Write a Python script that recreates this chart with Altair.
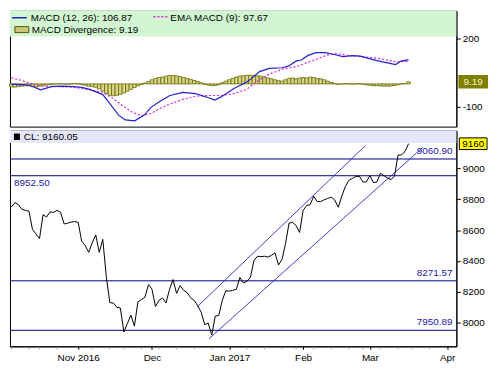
import altair as alt
import pandas as pd

# ---------------- data ----------------
dates = [
    "2016-10-03", "2016-10-04", "2016-10-05", "2016-10-06", "2016-10-07", "2016-10-10", "2016-10-13", "2016-10-14",
    "2016-10-17", "2016-10-18", "2016-10-19", "2016-10-20", "2016-10-21", "2016-10-24", "2016-10-25", "2016-10-26",
    "2016-10-27", "2016-10-28", "2016-10-30", "2016-11-01", "2016-11-02", "2016-11-03", "2016-11-04", "2016-11-07",
    "2016-11-08", "2016-11-09", "2016-11-10", "2016-11-11", "2016-11-15", "2016-11-16", "2016-11-17", "2016-11-18",
    "2016-11-21", "2016-11-22", "2016-11-23", "2016-11-24", "2016-11-25", "2016-11-28", "2016-11-29", "2016-11-30",
    "2016-12-01", "2016-12-02", "2016-12-05", "2016-12-06", "2016-12-07", "2016-12-08", "2016-12-09", "2016-12-12",
    "2016-12-13", "2016-12-14", "2016-12-15", "2016-12-16", "2016-12-19", "2016-12-20", "2016-12-21", "2016-12-22",
    "2016-12-23", "2016-12-26", "2016-12-27", "2016-12-28", "2016-12-29", "2016-12-30", "2017-01-02", "2017-01-03",
    "2017-01-04", "2017-01-05", "2017-01-06", "2017-01-09", "2017-01-10", "2017-01-11", "2017-01-12", "2017-01-13",
    "2017-01-16", "2017-01-17", "2017-01-18", "2017-01-19", "2017-01-20", "2017-01-23", "2017-01-24", "2017-01-25",
    "2017-01-27", "2017-01-30", "2017-01-31", "2017-02-01", "2017-02-02", "2017-02-03", "2017-02-06", "2017-02-07",
    "2017-02-08", "2017-02-09", "2017-02-10", "2017-02-13", "2017-02-14", "2017-02-15", "2017-02-16", "2017-02-17",
    "2017-02-20", "2017-02-21", "2017-02-22", "2017-02-23", "2017-02-27", "2017-02-28", "2017-03-01", "2017-03-02",
    "2017-03-03", "2017-03-06", "2017-03-07", "2017-03-08", "2017-03-09", "2017-03-10", "2017-03-14", "2017-03-15",
    "2017-03-16", "2017-03-17",
]

close = [
    8750, 8778, 8765, 8735, 8728, 8722, 8605, 8575, 8545, 8700, 8685, 8718, 8715, 8728, 8715, 8640,
    8645, 8652, 8656, 8650, 8528, 8500, 8456, 8517, 8569, 8456, 8540, 8300, 8130, 8128, 8100, 8095,
    7940, 7995, 8050, 7978, 8135, 8150, 8165, 8247, 8217, 8105, 8145, 8160, 8128, 8217, 8280, 8190,
    8240, 8210, 8196, 8162, 8145, 8110, 8068, 7988, 7998, 7920, 8043, 8047, 8145, 8207, 8205, 8210,
    8217, 8293, 8258, 8268, 8293, 8401, 8431, 8428, 8431, 8425, 8437, 8453, 8374, 8411, 8513, 8646,
    8650, 8630, 8585, 8728, 8759, 8765, 8820, 8785, 8785, 8797, 8805, 8814, 8795, 8748, 8820, 8882,
    8922, 8935, 8947, 8950, 8912, 8912, 8953, 8908, 8912, 8969, 8953, 8937, 8928, 8949, 9086, 9088,
    9110, 9160.05,
]

# MACD divergence histogram, one bar per trading day
hist = [
    -13, -14, -12, -10, -8, -9, -12, -14, -10, -6, -5, -2, -1, 0, 1, 0,
    -1, 0, 1, 0, -3, -6, -10, -12, -15, -22, -32, -42, -50, -52, -50, -46,
    -40, -32, -24, -16, -8, -2, 4, 10, 18, 24, 28, 30, 34, 37, 37, 35,
    32, 28, 24, 20, 15, 10, 5, -2, -5, -8, -7, -3, 5, 12, 18, 24,
    30, 34, 36, 38, 38, 37, 36, 34, 30, 26, 22, 18, 14, 12, 18, 24,
    26, 22, 26, 28, 26, 30, 28, 24, 22, 18, 12, 6, 2, -2, 0, 1,
    0, -1, 0, 1, -1, -4, -6, -8, -8, -9, -10, -10, -9, -7, -4, 0,
    2, 9.19,
]

# MACD (12, 26) line, read at trading-day positions
macd_pos = [0, 5, 8.3, 11.4, 14.2, 17.8, 20, 22.3, 26, 27.8, 30.5, 32.4, 35.1, 37.8, 39.7, 42.4,
            45.1, 48.8, 52.4, 56.1, 57.9, 59.7, 63.3, 67, 68, 70.6, 73.4, 77, 78.8, 81.1, 82.5,
            84.3, 86.6, 89.3, 91.6, 94.3, 97, 99.3, 101.6, 104.3, 107, 109.3, 110.7, 113]
macd_val = [-1, -5, -26, -12, -10, -12, -15, -24, -47, -82, -137, -158, -162, -137, -103, -75,
            -51, -37, -43, -61, -71, -57, -20, 8, 20, 54, 68, 71, 78, 101, 105,
            124, 137, 137, 130, 120, 124, 122, 112, 101, 92, 85, 99, 106.87]

# EMA MACD (9) signal line
sig_pos = [0, 2.3, 5.1, 8.6, 13.3, 17.8, 22.3, 26, 29, 32, 34.5, 37, 39.7, 42.4, 45, 48.8,
           52.4, 56, 59.7, 63.3, 67, 68, 70.6, 73.4, 77, 81.6, 86.1, 89.8, 92.5, 96.1, 99.8,
           104.3, 108, 109.8, 111.6, 113]
sig_val = [26, 18, 4, -10, -12, -15, -26, -37, -65, -100, -125, -140, -130, -107, -89, -68,
           -54, -51, -51, -43, -24, -10, 18, 43, 64, 78, 105, 126, 133, 124, 120,
           112, 101, 96, 99, 97.67]

levels = [9060.90, 8952.50, 8271.57, 7950.89]
level_text = ["9060.90", "8952.50", "8271.57", "7950.89"]
level_side = ["right", "left", "right", "right"]

chan_name = ["upper", "upper", "lower", "lower"]
chan_pos = [52.9, 100.7, 56.2, 117.1]
chan_price = [8104, 9147, 7896, 9137]

month_pos = [19, 40, 62, 83, 102, 124]
month_text = ["Nov 2016", "Dec", "Jan 2017", "Feb", "Mar", "Apr"]
week_pos = [0, 5, 8, 13, 23, 28, 32, 37, 42, 47, 52, 57, 67, 72, 77, 81, 86, 91, 96, 100, 105, 110, 114, 119]

# ---------------- layout ----------------
W = 451
HT = 117
HB = 218
FONT = "Liberation Sans"
XDOM = [-0.4, 126.6]

price_df = pd.DataFrame({"i": list(range(len(close))), "date": dates, "close": close})
hist_df = pd.DataFrame({"i": list(range(len(hist))), "h": hist})
macd_df = pd.DataFrame({"i": macd_pos, "v": macd_val})
sig_df = pd.DataFrame({"i": sig_pos, "v": sig_val})
lev_df = pd.DataFrame({"v": levels, "t": level_text, "side": level_side})
chan_df = pd.DataFrame({"line": chan_name, "i": chan_pos, "p": chan_price})
week_df = pd.DataFrame({"i": week_pos})
one = pd.DataFrame({"a": [0]})

month_expr = " : ".join(
    f"datum.value == {p} ? '{t}'" for p, t in zip(month_pos[:-1], month_text[:-1])
) + f" : '{month_text[-1]}'"

xs = alt.Scale(domain=XDOM, nice=False, zero=False)
ys_top = alt.Scale(domain=[-187.5, 320.8], nice=False, zero=False)
ys_bot = alt.Scale(domain=[7847, 9245], nice=False, zero=False)

# ---------- top panel (MACD) ----------
green = alt.Chart(one).mark_rect(color="#d2f5d2").encode(
    x=alt.value(0), x2=alt.value(W), y=alt.value(0), y2=alt.value(26))

bars = alt.Chart(hist_df).transform_calculate(
    lo="datum.i - 0.5", hi="datum.i + 0.5", z="0").mark_rect(
    fill="#d6d68c", stroke="#6b6b00", strokeWidth=0.8).encode(
    x=alt.X("lo:Q", scale=xs, axis=None),
    x2="hi:Q",
    y=alt.Y("z:Q", scale=ys_top,
            axis=alt.Axis(orient="right", values=[200, 100, 0, -100],
                          labelExpr="datum.value == 200 ? '200' : (datum.value == -100 ? '-100' : '')",
                          grid=False, tickSize=4, tickColor="black", domainColor="black",
                          labelFont=FONT, labelFontSize=10, labelColor="black", labelPadding=2,
                          title=None)),
    y2="h:Q")

sig_line = alt.Chart(sig_df).mark_line(color="#e020e0", strokeWidth=1.2, strokeDash=[2, 2]).encode(
    x=alt.X("i:Q", scale=xs), y=alt.Y("v:Q", scale=ys_top))
macd_line = alt.Chart(macd_df).mark_line(color="#2222cc", strokeWidth=1.2).encode(
    x=alt.X("i:Q", scale=xs), y=alt.Y("v:Q", scale=ys_top))

leg1_line = alt.Chart(one).mark_rule(color="#2222cc", strokeWidth=1.5).encode(
    x=alt.value(2), x2=alt.value(17), y=alt.value(7))
leg1_text = alt.Chart(one).mark_text(align="left", baseline="middle", font=FONT, fontSize=10,
                                     color="black", text="MACD (12, 26): 106.87").encode(
    x=alt.value(21), y=alt.value(7))
leg2_line = alt.Chart(one).mark_rule(color="#e020e0", strokeWidth=1.5, strokeDash=[2, 2]).encode(
    x=alt.value(145), x2=alt.value(159), y=alt.value(6))
leg2_text = alt.Chart(one).mark_text(align="left", baseline="middle", font=FONT, fontSize=10,
                                     color="black", text="EMA MACD (9): 97.67").encode(
    x=alt.value(162), y=alt.value(7))
leg3_box = alt.Chart(one).mark_rect(fill="#c8c878", stroke="#555500", strokeWidth=1).encode(
    x=alt.value(5), x2=alt.value(19), y=alt.value(16), y2=alt.value(22))
leg3_text = alt.Chart(one).mark_text(align="left", baseline="middle", font=FONT, fontSize=10,
                                     color="black", text="MACD Divergence: 9.19").encode(
    x=alt.value(22), y=alt.value(19))

box_shape = "M-1,-0.42H1V0.42H-1Z"
div_box = alt.Chart(pd.DataFrame({"v": [9.19]})).mark_point(
    shape=box_shape, filled=True, fill="#808000", stroke="#808000", size=784, opacity=1,
    clip=False).encode(x=alt.value(W + 17), y=alt.Y("v:Q", scale=ys_top))
div_txt = alt.Chart(pd.DataFrame({"v": [9.19]})).mark_text(
    font=FONT, fontSize=10, color="#f4f4c8", baseline="middle", clip=False, text="9.19").encode(
    x=alt.value(W + 17), y=alt.Y("v:Q", scale=ys_top))

top = alt.layer(green, bars, sig_line, macd_line, leg1_line, leg1_text, leg2_line, leg2_text,
                leg3_box, leg3_text, div_box, div_txt).properties(width=W, height=HT)

# ---------- bottom panel (price) ----------
band = alt.Chart(one).mark_rect(color="#e6e6fa").encode(
    x=alt.value(0), x2=alt.value(W), y=alt.value(0), y2=alt.value(12.5))
band_sq = alt.Chart(one).mark_rect(color="black").encode(
    x=alt.value(4), x2=alt.value(10), y=alt.value(3), y2=alt.value(9.5))
band_txt = alt.Chart(one).mark_text(align="left", baseline="middle", font=FONT, fontSize=10,
                                    color="black", text="CL: 9160.05").encode(
    x=alt.value(14), y=alt.value(6.5))

lev_rules = alt.Chart(lev_df).mark_rule(color="#000080", strokeWidth=1).encode(
    y=alt.Y("v:Q", scale=ys_bot))
lev_right = alt.Chart(lev_df).transform_filter("datum.side == 'right'").mark_text(
    align="right", baseline="middle", dy=-8, font=FONT, fontSize=10, color="#2020b0").encode(
    x=alt.value(W - 4), y=alt.Y("v:Q", scale=ys_bot), text="t:N")
lev_left = alt.Chart(lev_df).transform_filter("datum.side == 'left'").mark_text(
    align="left", baseline="middle", dy=7, font=FONT, fontSize=10, color="#2020b0").encode(
    x=alt.value(4), y=alt.Y("v:Q", scale=ys_bot), text="t:N")

chan = alt.Chart(chan_df).mark_line(color="#2a2ad0", strokeWidth=0.9).encode(
    x=alt.X("i:Q", scale=xs), y=alt.Y("p:Q", scale=ys_bot), detail="line:N")

price = alt.Chart(price_df).mark_line(color="black", strokeWidth=1).encode(
    x=alt.X("i:Q", scale=xs,
            axis=alt.Axis(values=month_pos, labelExpr=month_expr,
                          grid=False, tickSize=3, tickColor="black", domainColor="black",
                          labelFont=FONT, labelFontSize=10, labelColor="black", labelPadding=3,
                          labelFlush=False, labelOverlap=False, title=None)),
    y=alt.Y("close:Q", scale=ys_bot,
            axis=alt.Axis(orient="right", values=[8000, 8200, 8400, 8600, 8800, 9000],
                          format="d",
                          grid=False, tickSize=4, tickColor="black", domainColor="black",
                          labelFont=FONT, labelFontSize=10, labelColor="black", labelPadding=2,
                          title=None)))

week_ticks = alt.Chart(week_df).mark_rule(color="#999999", strokeWidth=1).encode(
    x=alt.X("i:Q", scale=xs), y=alt.value(HB + 1), y2=alt.value(HB + 3))

cl_box = alt.Chart(pd.DataFrame({"v": [9160]})).mark_point(
    shape=box_shape, filled=True, fill="#ffff00", stroke="black", strokeWidth=1, size=784,
    opacity=1, clip=False).encode(x=alt.value(W + 17), y=alt.Y("v:Q", scale=ys_bot))
cl_txt = alt.Chart(pd.DataFrame({"v": [9160]})).mark_text(
    font=FONT, fontSize=10, color="black", baseline="middle", clip=False, text="9160").encode(
    x=alt.value(W + 17), y=alt.Y("v:Q", scale=ys_bot))

bottom = alt.layer(band, band_sq, band_txt, lev_rules, lev_right, lev_left, chan, price,
                   week_ticks, cl_box, cl_txt).properties(width=W, height=HB)

chart = alt.vconcat(top, bottom, spacing=2).properties(
    padding=0, background="white").configure_view(stroke="black", strokeWidth=1)

chart.save("out.html", embed_options={"renderer": "svg", "actions": False})
